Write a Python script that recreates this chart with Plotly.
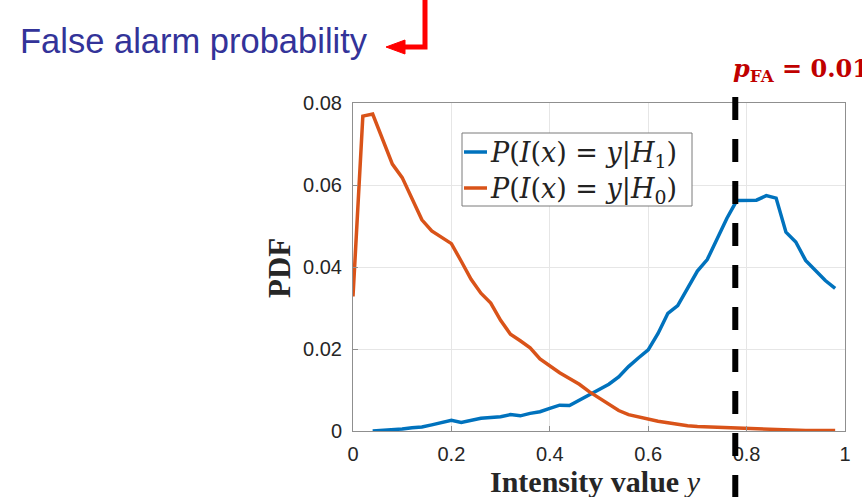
import plotly.graph_objects as go

# ---- data -------------------------------------------------------------
intensity_h0 = [0.00, 0.02, 0.04, 0.06, 0.08, 0.10, 0.12, 0.14, 0.16, 0.18,
                0.20, 0.22, 0.24, 0.26, 0.28, 0.30, 0.32, 0.34, 0.36, 0.38,
                0.40, 0.42, 0.44, 0.46, 0.48, 0.50, 0.52, 0.54, 0.56, 0.58,
                0.60, 0.62, 0.64, 0.66, 0.68, 0.70, 0.72, 0.74, 0.76, 0.78,
                0.80, 0.82, 0.84, 0.86, 0.88, 0.90, 0.92, 0.94, 0.96, 0.98]
pdf_h0 = [0.0328, 0.0768, 0.0773, 0.0712, 0.0651, 0.0618, 0.0567, 0.0515, 0.0488, 0.0472,
          0.0457, 0.0414, 0.0370, 0.0336, 0.0312, 0.0270, 0.0236, 0.0220, 0.0203, 0.0176,
          0.0158, 0.0142, 0.0128, 0.0114, 0.0096, 0.0080, 0.0064, 0.0050, 0.0040, 0.0034,
          0.0029, 0.0024, 0.0020, 0.0016, 0.0013, 0.0011, 0.0010, 0.0008, 0.0007, 0.0006,
          0.0005, 0.0004, 0.0003, 0.0003, 0.0002, 0.0002, 0.0001, 0.0001, 0.0001, 0.0001]

intensity_h1 = [0.04, 0.06, 0.08, 0.10, 0.12, 0.14, 0.16, 0.18,
                0.20, 0.22, 0.24, 0.26, 0.28, 0.30, 0.32, 0.34, 0.36, 0.38,
                0.40, 0.42, 0.44, 0.46, 0.48, 0.50, 0.52, 0.54, 0.56, 0.58,
                0.60, 0.62, 0.64, 0.66, 0.68, 0.70, 0.72, 0.74, 0.76, 0.78,
                0.80, 0.82, 0.84, 0.86, 0.88, 0.90, 0.92, 0.94, 0.96, 0.98]
pdf_h1 = [0.0000, 0.0001, 0.0003, 0.0005, 0.0008, 0.0010, 0.0015, 0.0020,
          0.0026, 0.0021, 0.0026, 0.0031, 0.0033, 0.0035, 0.0040, 0.0037, 0.0043, 0.0047,
          0.0055, 0.0063, 0.0062, 0.0075, 0.0088, 0.0102, 0.0114, 0.0132, 0.0157, 0.0178,
          0.0198, 0.0238, 0.0287, 0.0306, 0.0346, 0.0390, 0.0418, 0.0470, 0.0519, 0.0562,
          0.0563, 0.0563, 0.0574, 0.0568, 0.0485, 0.0461, 0.0416, 0.0390, 0.0367, 0.0348]

threshold = 0.777          # intensity at which p_FA = 0.01
x_ticks = [0, 0.2, 0.4, 0.6, 0.8, 1]
x_tick_text = ["0", "0.2", "0.4", "0.6", "0.8", "1"]
y_ticks = [0, 0.02, 0.04, 0.06, 0.08]
y_tick_text = ["0", "0.02", "0.04", "0.06", "0.08"]

BLUE = "#0072BD"
ORANGE = "#D95319"
AXIS = "#8f8f8f"
TICKFONT = dict(family="Liberation Sans, Arial, sans-serif", size=20, color="#262626")

# ---- page geometry (pixels) ------------------------------------------
FIG_W, FIG_H = 862, 497
L, R, T, B = 353, 845, 103, 431
PW, PH = R - L, B - T


def xp(px):
    return (px - L) / PW


def yp(py):
    return (B - py) / PH


fig = go.Figure()
fig.add_trace(go.Scatter(x=intensity_h1, y=pdf_h1, mode="lines",
                         line=dict(color=BLUE, width=3.5), showlegend=False))
fig.add_trace(go.Scatter(x=intensity_h0, y=pdf_h0, mode="lines",
                         line=dict(color=ORANGE, width=3.5), showlegend=False))

shapes = []
annotations = []

# threshold marker, running past the axes box
shapes.append(dict(type="line", xref="x", yref="paper", x0=threshold, x1=threshold,
                   y0=yp(97), y1=yp(500), layer="above",
                   line=dict(color="black", width=6, dash="23px,19px")))

# legend box drawn by hand
shapes.append(dict(type="rect", xref="paper", yref="paper",
                   x0=xp(462), x1=xp(692), y0=yp(206), y1=yp(133),
                   fillcolor="white", line=dict(color="#7a7a7a", width=1), layer="above"))
legend_rows = [(BLUE, 152, "<i>P</i>(<i>I</i>(<i>x</i>) = <i>y</i>|<i>H</i><sub>1</sub>)"),
               (ORANGE, 188, "<i>P</i>(<i>I</i>(<i>x</i>) = <i>y</i>|<i>H</i><sub>0</sub>)")]
for color, row_y, label in legend_rows:
    shapes.append(dict(type="line", xref="paper", yref="paper",
                       x0=xp(464), x1=xp(487), y0=yp(row_y), y1=yp(row_y), layer="above",
                       line=dict(color=color, width=3.5)))
    annotations.append(dict(xref="paper", yref="paper", x=xp(488), y=yp(row_y + 2),
                            xanchor="left", yanchor="middle", showarrow=False,
                            text=label,
                            font=dict(family="DejaVu Serif, serif", size=27, color="#222222")))

# red bent arrow pointing at the caption
shapes.append(dict(type="path", xref="paper", yref="paper",
                   path=f"M{xp(425)},{yp(-5)} L{xp(425)},{yp(47)} L{xp(402)},{yp(47)}",
                   line=dict(color="#ff0000", width=5), layer="above"))
shapes.append(dict(type="path", xref="paper", yref="paper",
                   path=f"M{xp(386)},{yp(47)} L{xp(405)},{yp(40)} L{xp(405)},{yp(54)} Z",
                   fillcolor="#ff0000", line=dict(color="#ff0000", width=1), layer="above"))

annotations.append(dict(xref="paper", yref="paper", x=xp(18), y=yp(41),
                        xanchor="left", yanchor="middle", showarrow=False,
                        text="False alarm probability",
                        font=dict(family="Liberation Sans, Arial, sans-serif", size=34.5,
                                  color="#333399")))
annotations.append(dict(xref="paper", yref="paper", x=xp(731), y=yp(70),
                        xanchor="left", yanchor="middle", showarrow=False,
                        text="<b><i>p</i><sub>FA</sub> = 0.01</b>",
                        font=dict(family="DejaVu Serif, serif", size=24, color="#C00000")))

# axis titles
annotations.append(dict(xref="paper", yref="paper", x=xp(279), y=yp(268),
                        xanchor="center", yanchor="middle", showarrow=False, textangle=-90,
                        text="<b>PDF</b>",
                        font=dict(family="Liberation Serif, serif", size=31, color="#262626")))
annotations.append(dict(xref="paper", yref="paper", x=xp(595), y=yp(481),
                        xanchor="center", yanchor="middle", showarrow=False,
                        text="<b>Intensity value </b><i>y</i>",
                        font=dict(family="Liberation Serif, serif", size=30, color="#262626")))

fig.update_layout(
    width=FIG_W, height=FIG_H,
    margin=dict(l=L, r=FIG_W - R, t=T, b=FIG_H - B, pad=0),
    paper_bgcolor="white", plot_bgcolor="white",
    shapes=shapes, annotations=annotations,
    showlegend=False,
)
fig.update_xaxes(range=[0, 1], tickvals=x_ticks, ticktext=x_tick_text,
                 showgrid=True, gridcolor="#e6e6e6", gridwidth=1,
                 showline=True, linecolor=AXIS, linewidth=1, mirror=True,
                 ticks="inside", ticklen=5, tickcolor=AXIS,
                 tickfont=TICKFONT, zeroline=False, ticklabelstandoff=5)
fig.update_yaxes(range=[0, 0.08], tickvals=y_ticks, ticktext=y_tick_text,
                 showgrid=True, gridcolor="#e6e6e6", gridwidth=1,
                 showline=True, linecolor=AXIS, linewidth=1, mirror=True,
                 ticks="inside", ticklen=5, tickcolor=AXIS,
                 tickfont=TICKFONT, zeroline=False, ticklabelstandoff=6)

fig.write_html("out.html")
